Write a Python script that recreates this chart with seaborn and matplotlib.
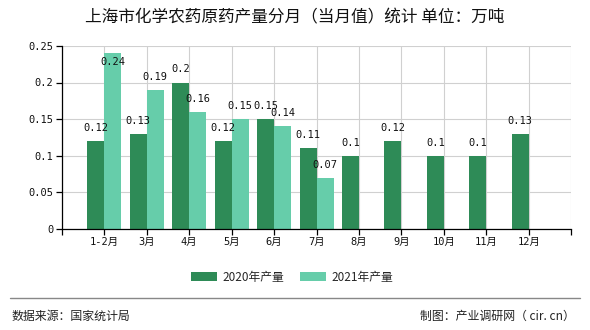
import numpy as np
import pandas as pd
import matplotlib
matplotlib.use("Agg")
import matplotlib.pyplot as plt
import seaborn as sns

months = ["1-2月", "3月", "4月", "5月", "6月", "7月", "8月", "9月", "10月", "11月", "12月"]
series_names = ["2020年产量", "2021年产量"]
values_2020 = [0.12, 0.13, 0.2, 0.12, 0.15, 0.11, 0.1, 0.12, 0.1, 0.1, 0.13]
values_2021 = [0.24, 0.19, 0.16, 0.15, 0.14, 0.07, None, None, None, None, None]
colors = ["#2E8B57", "#66CDAA"]
yticks = [0, 0.05, 0.1, 0.15, 0.2, 0.25]
ytick_labels = ["0", "0.05", "0.1", "0.15", "0.2", "0.25"]

rows = []
for m, a, b in zip(months, values_2020, values_2021):
    rows.append({"month": m, "series": series_names[0], "value": a})
    rows.append({"month": m, "series": series_names[1], "value": np.nan if b is None else b})
df = pd.DataFrame(rows)

sns.set_theme(style="white")
plt.rcParams["font.family"] = ["Noto Sans CJK SC", "DejaVu Sans"]

fig = plt.figure(figsize=(5.9, 3.3), dpi=100)
ax = fig.add_axes([0.105, 0.306, 0.863, 0.555])

sns.barplot(data=df, x="month", y="value", hue="series", order=months,
            hue_order=series_names, palette=colors, width=0.8, saturation=1,
            linewidth=0, edgecolor="none", ax=ax, legend=True)

mono = ["DejaVu Sans Mono", "Noto Sans CJK SC"]
for cont in ax.containers:
    for p in cont:
        h = p.get_height()
        if h is None or np.isnan(h) or h <= 0:
            continue
        xc = p.get_x() + p.get_width() / 2
        y = h + 0.018
        if y > 0.24:
            y = 0.228
        ax.text(xc, y, f"{h:g}", ha="center", va="center", fontsize=7.5,
                family=mono, color="#111111")

ax.set_xlim(-1, 11)
ax.set_ylim(0, 0.25)
ax.set_xticks(range(-1, 12))
ax.set_xticklabels([""] + months + [""], family=mono, fontsize=7.5)
ax.set_yticks(yticks)
ax.set_yticklabels(ytick_labels, family=mono, fontsize=7.5)
ax.set_xlabel("")
ax.set_ylabel("")
ax.grid(True, color="#D0D0D0", linewidth=0.8)
ax.set_axisbelow(True)
for s in ["top", "right"]:
    ax.spines[s].set_visible(False)
for s in ["left", "bottom"]:
    ax.spines[s].set_color("black")
    ax.spines[s].set_linewidth(0.9)
ax.tick_params(axis="both", which="major", length=4, width=0.9, color="black",
               direction="out", bottom=True, left=True, pad=2, labelcolor="#111111")

handles, labels = ax.get_legend_handles_labels()
ax.legend(handles, labels, loc="center", bbox_to_anchor=(0.495, 0.16),
          bbox_transform=fig.transFigure, ncol=2, frameon=False, fontsize=8.5,
          handlelength=2.2, handleheight=0.7, columnspacing=1.4, handletextpad=0.4)

fig.text(0.5, 0.945, "上海市化学农药原药产量分月（当月值）统计 单位：万吨",
         ha="center", va="center", fontsize=12, color="#111111")

fig.add_artist(plt.Line2D([0.017, 0.983], [0.097, 0.097], transform=fig.transFigure,
                          color="#888888", linewidth=1))
fig.text(0.02, 0.042, "数据来源：国家统计局", ha="left", va="center", fontsize=8.6, color="#222222")
fig.text(0.975, 0.042, "制图：产业调研网（ cir. cn）", ha="right", va="center", fontsize=8.6, color="#222222")

fig.savefig("out.png", dpi=100)
